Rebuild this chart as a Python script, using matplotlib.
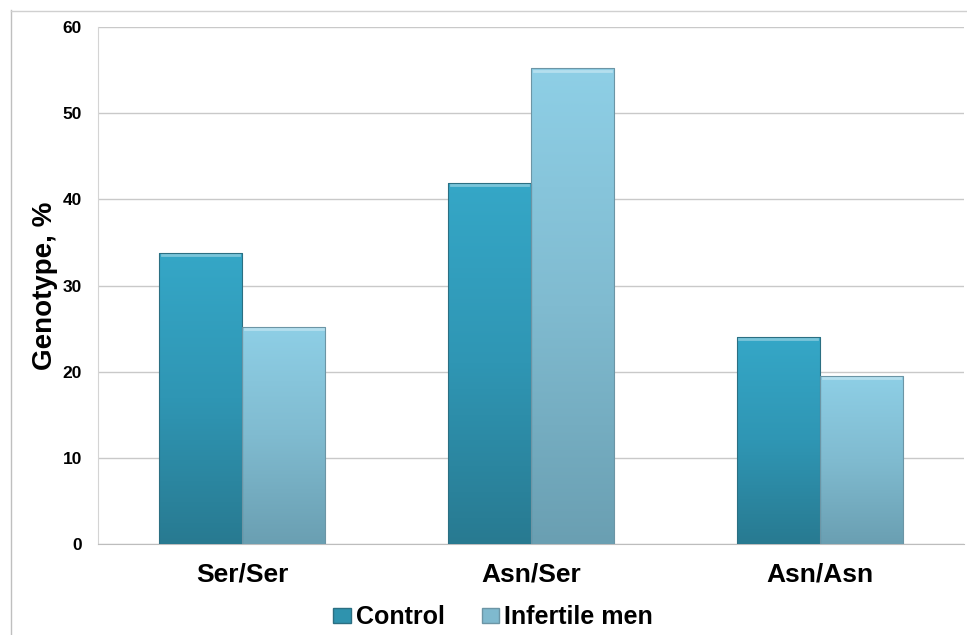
import numpy as np
import matplotlib.pyplot as plt
from matplotlib.colors import LinearSegmentedColormap
from matplotlib.lines import Line2D
from matplotlib.patches import Patch

# data
genotypes = ['Ser/Ser', 'Asn/Ser', 'Asn/Asn']
control = [33.8, 41.9, 24.0]
infertile = [25.2, 55.2, 19.5]
yticks = [0, 10, 20, 30, 40, 50, 60]

plt.rcParams['font.family'] = ['Liberation Sans', 'DejaVu Sans']
plt.rcParams['font.weight'] = 'bold'

W, H = 967, 635
fig = plt.figure(figsize=(W/100, H/100), dpi=100)
ax = fig.add_axes([98/W, 1-544/H, (964-98)/W, (544-27)/H])

cm_ctrl = LinearSegmentedColormap.from_list('ctrl', ['#287A91', '#2F96B4', '#35A7C7'])
cm_inf = LinearSegmentedColormap.from_list('inf', ['#6A9FB2', '#80BBD0', '#8ECFE6'])

x = np.arange(len(genotypes))
bw = 0.288
b1 = ax.bar(x-bw/2, control, bw, facecolor='none', edgecolor='#2B6F82', lw=0.8, zorder=4)
b2 = ax.bar(x+bw/2, infertile, bw, facecolor='none', edgecolor='#6C95A5', lw=0.8, zorder=4)

grad = np.linspace(0, 1, 256).reshape(-1, 1)
for bars, cm in [(b1, cm_ctrl), (b2, cm_inf)]:
    for r in bars:
        x0, h, w = r.get_x(), r.get_height(), r.get_width()
        im = ax.imshow(grad, extent=[x0, x0+w, 0, h], origin='lower', cmap=cm,
                       aspect='auto', zorder=3, interpolation='bicubic')
        im.set_clip_path(r)
        # light bevel at the top
        ax.plot([x0+0.01, x0+w-0.01], [h-0.25, h-0.25], color='white', alpha=0.35, lw=2, zorder=4)

ax.set_xlim(-0.5, 2.5)
ax.set_ylim(0, 60)
ax.set_yticks(yticks)
ax.set_xticks(x)
ax.set_xticklabels(genotypes, fontsize=19, fontweight='bold')
ax.tick_params(axis='y', labelsize=12.5, length=0, pad=11.5)
ax.tick_params(axis='x', length=0, pad=13)
ax.yaxis.grid(True, color='#C9C9C9', lw=1)
ax.set_axisbelow(True)
for s in ['top', 'right']:
    ax.spines[s].set_visible(False)
ax.spines['left'].set_color('#D4D4D4')
ax.spines['bottom'].set_color('#BDBDBD')
ax.set_ylabel('Genotype, %', fontsize=20, fontweight='bold', labelpad=3)

handles = [Patch(facecolor='#2F93AE', edgecolor='#2B6F82', label='Control'),
           Patch(facecolor='#7FB9CE', edgecolor='#6C95A5', label='Infertile men')]
fig.legend(handles=handles, loc='center', bbox_to_anchor=(0.51, 0.028), ncol=2,
           frameon=False, handlelength=0.7, handleheight=0.55,
           handletextpad=0.2, columnspacing=1.5, prop={'weight': 'bold', 'size': 18})

# outer frame lines
fig.add_artist(Line2D([11/W, 11/W], [0, 1-10/H], color='#BFBFBF', lw=1))
fig.add_artist(Line2D([11/W, 1], [1-11/H, 1-11/H], color='#D0D0D0', lw=1))

fig.savefig('out.png', dpi=100)
